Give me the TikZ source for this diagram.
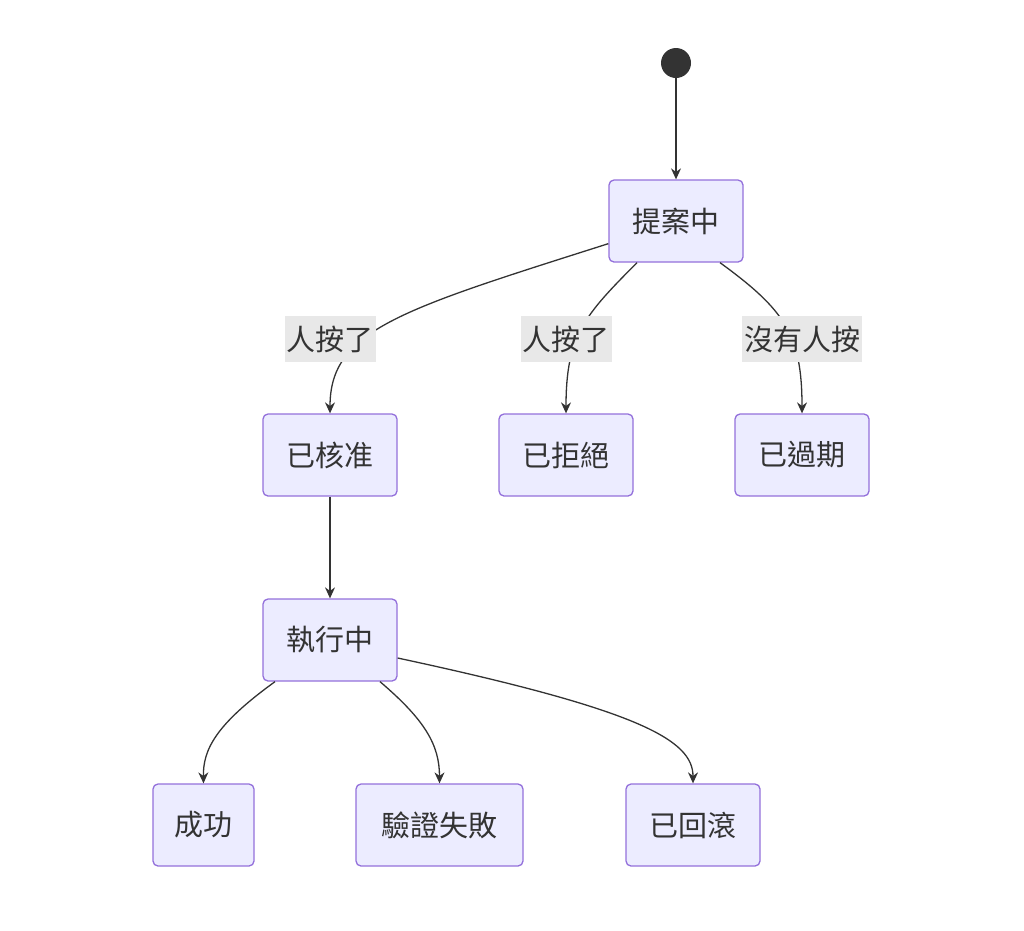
\documentclass[tikz,border=0pt]{standalone}
\usepackage{fontspec}
\setmainfont{Noto Sans CJK TC}
\usetikzlibrary{calc,arrows.meta}
\definecolor{nfill}{HTML}{ECECFF}
\definecolor{nline}{HTML}{9370DB}
\definecolor{ink}{HTML}{333333}
\definecolor{lbg}{HTML}{E8E8E8}
\begin{document}
\begin{tikzpicture}[x=1pt,y=-1pt,
  st/.style={draw=nline,fill=nfill,line width=1.3pt,rounded corners=5pt,minimum height=82pt,inner sep=0pt,text=ink,font=\fontsize{29}{32}\selectfont},
  lb/.style={fill=lbg,text=ink,inner sep=2pt,minimum height=46pt,font=\fontsize{29}{32}\selectfont},
  ed/.style={draw=ink,line width=1.3pt,-{Stealth[length=11pt,width=10pt]}}]
\useasboundingbox (0,0) rectangle (1024,930);
\node[circle,fill=ink,minimum size=30pt,inner sep=0pt] (s) at (676,63) {};
\node[st,minimum width=134pt] (p) at (676,221) {提案中};
\node[st,minimum width=134pt] (a) at (330,455) {已核准};
\node[st,minimum width=134pt] (r) at (566,455) {已拒絕};
\node[st,minimum width=134pt] (x) at (802,455) {已過期};
\node[st,minimum width=134pt] (e) at (330,640) {執行中};
\node[st,minimum width=101pt] (ok) at (203.5,825) {成功};
\node[st,minimum width=167pt] (vf) at (439.5,825) {驗證失敗};
\node[st,minimum width=134pt] (rb) at (693,825) {已回滾};
\draw[ed] (s) -- (p);
\draw[ed] ($(p.south west)+(0,-19)$) .. controls (400,310) and (330,330) .. (a.north);
\draw[ed] ($(p.south)+(-39,0)$) .. controls (585,315) and (566,335) .. (r.north);
\draw[ed] ($(p.south)+(44,0)$) .. controls (785,310) and (802,335) .. (x.north);
\draw[ed] (a) -- (e);
\draw[ed] ($(e.south)+(-55,0)$) .. controls (215,725) and (203,750) .. (ok.north);
\draw[ed] ($(e.south)+(50,0)$) .. controls (425,720) and (439.5,745) .. (vf.north);
\draw[ed] ($(e.east)+(0,18)$) .. controls (640,710) and (693,740) .. (rb.north);
\node[lb] (l1) at (330,339) {人按了};
\node[lb] (l2) at (566,339) {人按了};
\node[lb] (l3) at (802,339) {沒有人按};
\end{tikzpicture}
\end{document}
